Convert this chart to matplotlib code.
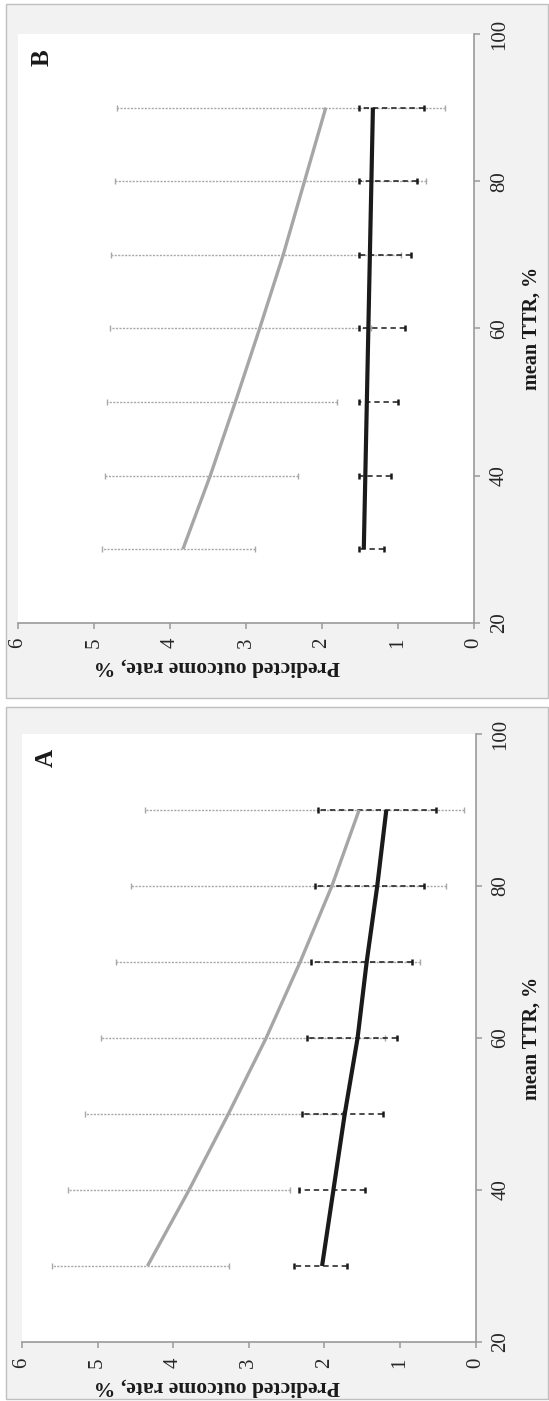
import matplotlib
matplotlib.use("Agg")
import matplotlib.pyplot as plt
from matplotlib.patches import Rectangle
import numpy as np

# mean TTR values, %
ttr = [30, 40, 50, 60, 70, 80, 90]

# Panel A: predicted outcome rate, %
a_grey = [4.34, 3.79, 3.27, 2.77, 2.32, 1.90, 1.54]
a_grey_lo = [3.26, 2.45, 1.77, 1.20, 0.74, 0.39, 0.15]
a_grey_hi = [5.60, 5.39, 5.16, 4.96, 4.76, 4.56, 4.37]
a_black = [2.03, 1.88, 1.73, 1.56, 1.44, 1.30, 1.18]
a_black_lo = [1.70, 1.46, 1.23, 1.04, 0.84, 0.68, 0.52]
a_black_hi = [2.40, 2.33, 2.29, 2.23, 2.17, 2.13, 2.08]

# Panel B
b_grey = [3.83, 3.47, 3.14, 2.82, 2.51, 2.23, 1.95]
b_grey_lo = [2.88, 2.31, 1.80, 1.35, 0.96, 0.63, 0.38]
b_grey_hi = [4.90, 4.86, 4.83, 4.79, 4.77, 4.72, 4.70]
b_black = [1.45, 1.43, 1.41, 1.39, 1.37, 1.35, 1.33]
b_black_lo = [1.18, 1.09, 1.00, 0.91, 0.83, 0.75, 0.66]
b_black_hi = [1.51, 1.51, 1.51, 1.51, 1.51, 1.51, 1.51]

outcome_ticks = [0, 1, 2, 3, 4, 5, 6]
ttr_ticks = [20, 40, 60, 80, 100]

W, H = 549, 1401
FONT = "Liberation Serif"
plt.rcParams["font.family"] = [FONT, "DejaVu Serif"]

fig = plt.figure(figsize=(W / 100, H / 100), dpi=100)


def fx(px):
    return px / W


def fy(py):
    return 1 - py / H


def draw_errbars(ax, mid, lo, hi, color, ls, lw, capsize, capthick):
    mid = np.array(mid)
    err = [mid - np.array(lo), np.array(hi) - mid]
    cont = ax.errorbar(mid, ttr, xerr=err, fmt="none", ecolor=color,
                       elinewidth=lw, capsize=capsize, capthick=capthick, zorder=2)
    for col in cont[2]:
        col.set_linestyle(ls)


def panel(frame, box, grey, grey_lo, grey_hi, black, black_lo, black_hi, letter):
    # grey chart frame (figure pixels: x0, y0, x1, y1)
    x0, y0, x1, y1 = frame
    fig.patches.append(Rectangle((fx(x0), fy(y1)), fx(x1 - x0), (y1 - y0) / H,
                                 transform=fig.transFigure, facecolor="#f2f2f2",
                                 edgecolor="#bfbfbf", linewidth=1.0, zorder=-5))
    l, t, r, b = box
    ax = fig.add_axes([fx(l), fy(b), fx(r - l), (b - t) / H])
    ax.set_zorder(2)
    ax.set_facecolor("white")
    ax.set_xlim(6, 0)
    ax.set_ylim(20, 100)

    draw_errbars(ax, grey, grey_lo, grey_hi, "#a8a8a8", (0, (1.5, 1.0)), 1.0, 2.2, 1.0)
    draw_errbars(ax, black, black_lo, black_hi, "#1a1a1a", (0, (3.5, 2.5)), 1.1, 2.2, 1.8)
    ax.plot(grey, ttr, color="#a6a6a6", lw=2.4, zorder=3, solid_capstyle="butt")
    ax.plot(black, ttr, color="#1a1a1a", lw=3.0, zorder=4, solid_capstyle="butt")

    for s in ("top", "left"):
        ax.spines[s].set_visible(False)
    for s in ("bottom", "right"):
        ax.spines[s].set_color("#9a9a9a")
        ax.spines[s].set_linewidth(1.2)

    ax.set_xticks(outcome_ticks)
    ax.set_xticklabels([str(v) for v in outcome_ticks])
    ax.yaxis.tick_right()
    ax.set_yticks(ttr_ticks)
    ax.set_yticklabels([str(v) for v in ttr_ticks])
    ax.tick_params(axis="x", direction="out", length=4, width=1.1, color="#9a9a9a",
                   labelrotation=90, pad=7, labelsize=15, labelcolor="#262626")
    ax.tick_params(axis="y", direction="out", length=4.5, width=1.1, color="#9a9a9a",
                   labelrotation=90, pad=7, labelsize=15, labelcolor="#262626")
    for lab in ax.get_yticklabels():
        lab.set_verticalalignment("center")

    # axis titles, drawn in the rotated orientation of the figure
    fig.text(fx(217), fy(b + 44), "Predicted outcome rate, %", rotation=180,
             ha="center", va="center", fontsize=15.5, fontweight="bold", color="#1a1a1a")
    fig.text(fx(532), fy((t + b) / 2), "mean TTR, %", rotation=90,
             ha="center", va="center", fontsize=14.5, fontweight="bold", color="#1a1a1a")
    fig.text(fx(l + 24), fy(t + 24), letter, rotation=90,
             ha="center", va="center", fontsize=18, fontweight="bold", color="#1a1a1a")
    return ax


panel((6, 4, 548, 698), (18, 34, 474, 622.7),
      b_grey, b_grey_lo, b_grey_hi, b_black, b_black_lo, b_black_hi, "B")
panel((6, 707, 548, 1399), (22, 734, 475.5, 1342),
      a_grey, a_grey_lo, a_grey_hi, a_black, a_black_lo, a_black_hi, "A")

fig.savefig("out.png", dpi=100, facecolor="white")
